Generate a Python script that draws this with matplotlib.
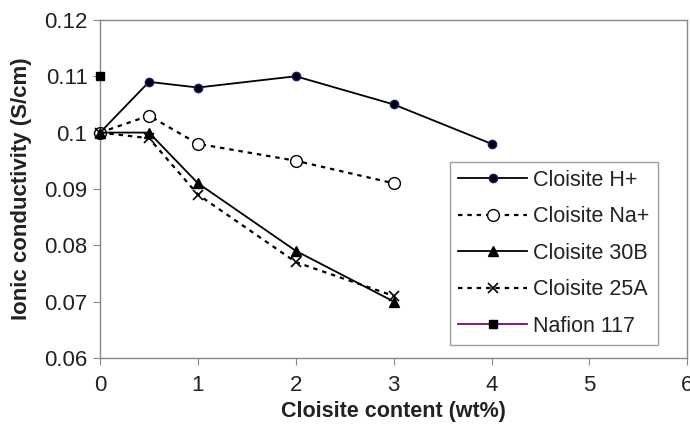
import matplotlib
matplotlib.use("Agg")
import matplotlib.pyplot as plt

plt.rcParams['font.family'] = ['Liberation Sans', 'DejaVu Sans']

x_h = [0, 0.5, 1, 2, 3, 4]
y_h = [0.100, 0.109, 0.108, 0.110, 0.105, 0.098]
x_na = [0, 0.5, 1, 2, 3]
y_na = [0.100, 0.103, 0.098, 0.095, 0.091]
x_30b = [0, 0.5, 1, 2, 3]
y_30b = [0.100, 0.100, 0.091, 0.079, 0.070]
x_25a = [0, 0.5, 1, 2, 3]
y_25a = [0.100, 0.099, 0.089, 0.077, 0.071]
x_naf = [0]
y_naf = [0.110]

fig = plt.figure(figsize=(6.9, 4.24), dpi=100)
ax = fig.add_axes([0.145, 0.156, 0.851, 0.797])

dash = (0, (2.0, 2.2))
ax.plot(x_h, y_h, '-', color='black', lw=1.3, marker='o', ms=6,
        mfc='black', mec='#1a1a80', mew=1.0, label='Cloisite H+', clip_on=False, zorder=3)
ax.plot(x_na, y_na, linestyle=dash, color='black', lw=1.6, marker='o', ms=8.5,
        mfc='white', mec='black', mew=1.0, label='Cloisite Na+', clip_on=False, zorder=3)
ax.plot(x_30b, y_30b, '-', color='black', lw=1.3, marker='^', ms=7,
        mfc='black', mec='black', label='Cloisite 30B', clip_on=False, zorder=3)
ax.plot(x_25a, y_25a, linestyle=dash, color='black', lw=1.6, marker='x', ms=7,
        mec='black', mew=1.2, label='Cloisite 25A', clip_on=False, zorder=3)
ax.plot(x_naf, y_naf, '-', color='#800080', lw=1.3, marker='s', ms=6,
        mfc='black', mec='black', label='Nafion 117', clip_on=False, zorder=4)

ax.set_xlim(0, 6)
ax.set_ylim(0.06, 0.12)
ax.set_xticks([0, 1, 2, 3, 4, 5, 6])
ax.set_yticks([0.06, 0.07, 0.08, 0.09, 0.10, 0.11, 0.12])
ax.set_yticklabels(['0.06', '0.07', '0.08', '0.09', '0.1', '0.11', '0.12'])
for s in ax.spines.values():
    s.set_color('#888888')
    s.set_linewidth(1.0)
ax.tick_params(axis='both', direction='out', color='#888888', length=5,
               labelsize=16, labelcolor='#222222')
ax.tick_params(axis='x', pad=7)
ax.tick_params(axis='y', pad=4)

ax.set_xlabel('Cloisite content (wt%)', fontsize=15.5, fontweight='bold',
              labelpad=4, color='#222222')
ax.set_ylabel('Ionic conductivity (S/cm)', fontsize=16, fontweight='bold',
              labelpad=9, color='#222222')

leg = ax.legend(loc='lower right', bbox_to_anchor=(0.95, 0.038), fontsize=15.5,
                frameon=True, fancybox=False, edgecolor='#888888',
                handlelength=3.2, handletextpad=0.3, labelspacing=0.72,
                borderpad=0.38, borderaxespad=0)
leg.get_frame().set_linewidth(1.0)
for t in leg.get_texts():
    t.set_color('#222222')

fig.savefig('out.png', dpi=100)
